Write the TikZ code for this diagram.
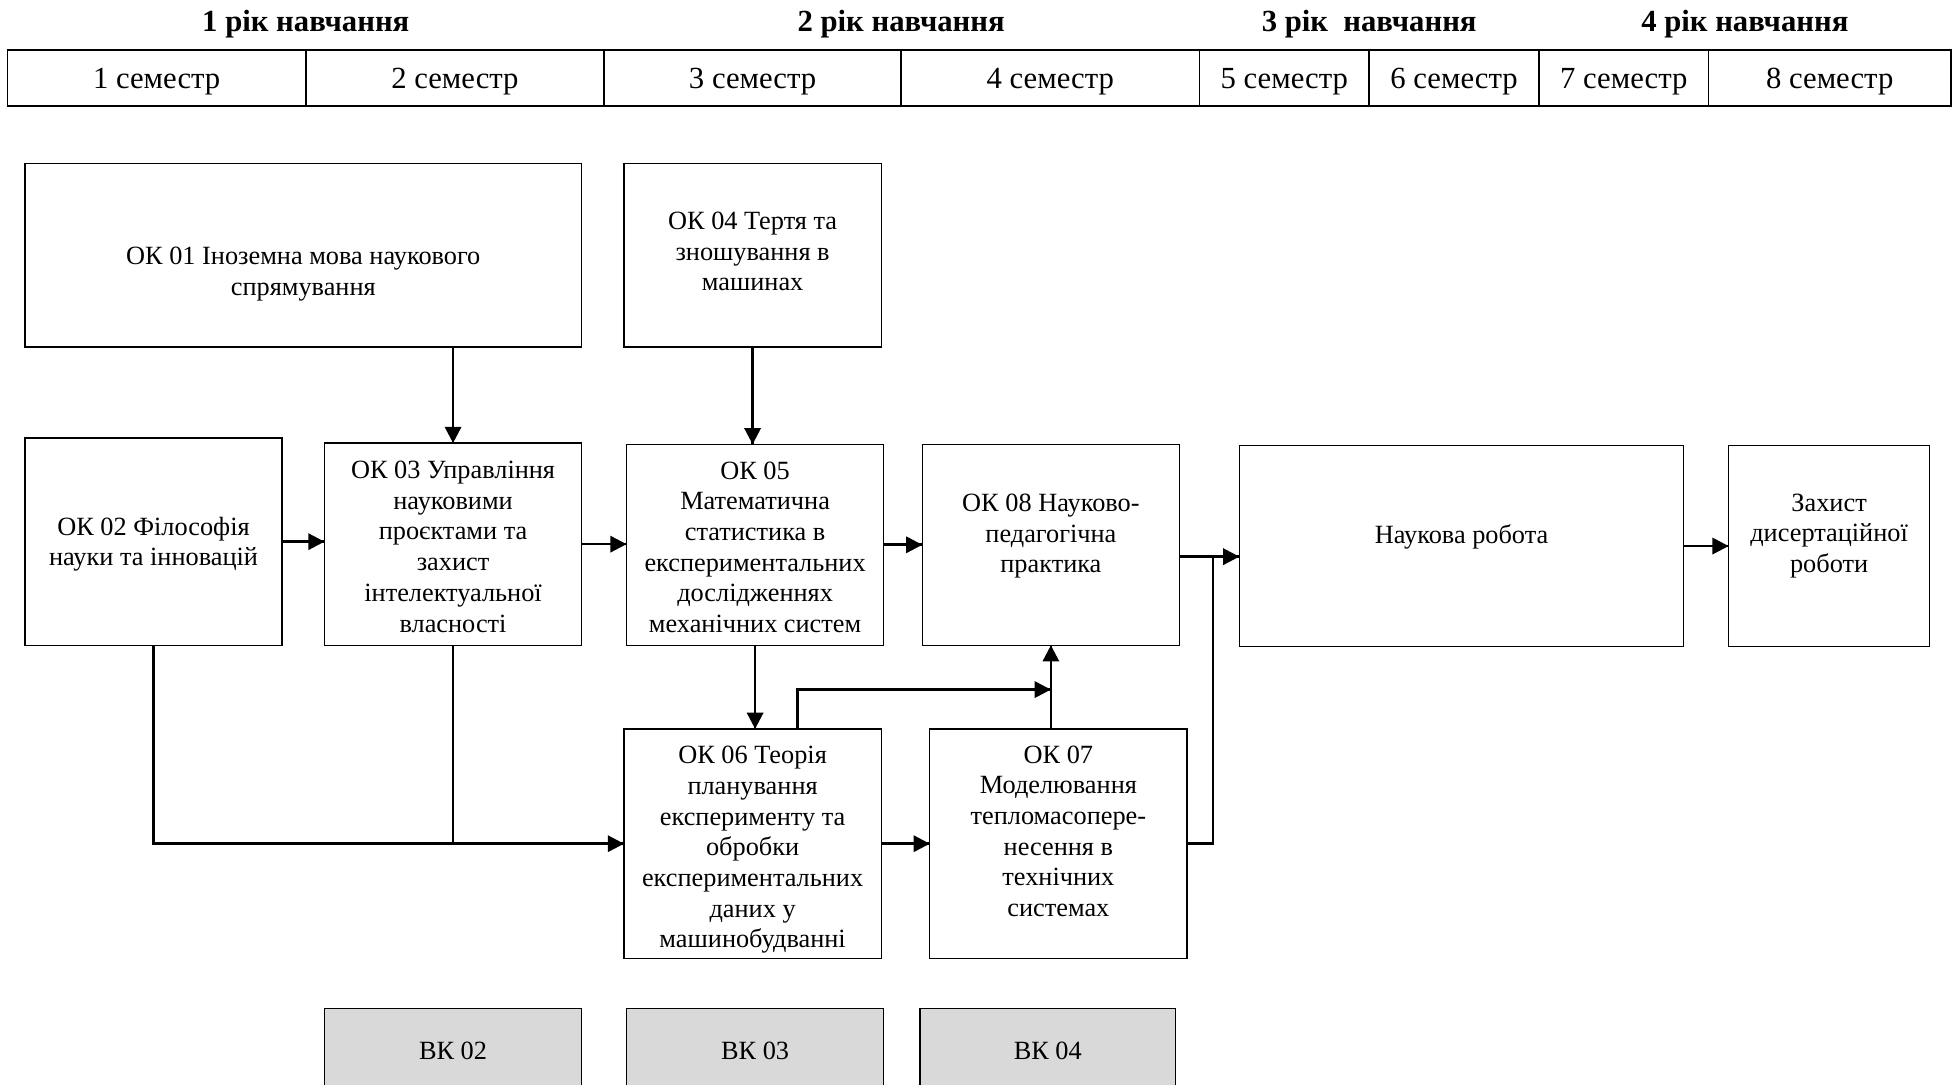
\documentclass[tikz,border=0pt]{standalone}
\usepackage{fontspec}
\setmainfont{Liberation Serif}
\usetikzlibrary{arrows.meta}
\usetikzlibrary{decorations.markings}
\usetikzlibrary{positioning}
\definecolor{vkgray}{RGB}{217,217,217}
\tikzset{link/.style = {line width = 1.2pt}}
\tikzset{->/.style = {decoration={markings,
                                  mark=at position 1 with {\arrow{Triangle[length=2.6mm, width=2.6mm]}}},
                      postaction={decorate}, link}}
\tikzset{box/.style = {draw, line width = 0.6pt, inner sep = 0, outer sep = 0}}
\tikzset{txt/.style = {align = center, inner sep = 0, font = \fontsize{12}{14}\selectfont}}
\tikzset{vk/.style = {box, txt, fill = vkgray, minimum height = 1.36cm}}
\tikzset{cell/.style = {draw, line width = 0.7pt, inner sep = 0, outer sep = 0, minimum height = 0.9cm,
                        text height = 12.4pt, text depth = 3pt, font = \fontsize{14}{16}\selectfont}}
\tikzset{year/.style = {font = \fontsize{14}{16}\selectfont\bfseries}}

\begin{document}
\begin{tikzpicture}
      \path [use as bounding box, clip] (0, 0) rectangle (31.36, -17.38);

      \node [year] (y1) at (4.9, -0.38) {1 рік навчання};
      \node [year] (y2) at (14.44, -0.38) {2 рік навчання};
      \node [year] (y3) at (21.94, -0.38) {3 рік\ \ навчання};
      \node [year] (y4) at (27.96, -0.38) {4 рік навчання};

      \foreach \n/\a/\b in {1/0.12/4.9, 2/4.9/9.68, 3/9.68/14.44, 4/14.44/19.22,
                            5/19.22/21.94, 6/21.94/24.66, 7/24.66/27.38, 8/27.38/31.26} {
        \node [cell, minimum width = {(\b-\a)*1cm}] (sem\n) at ({(\a+\b)/2}, -1.25) {\n\ семестр};
      }

      % frames
      \node [box, minimum width = 8.92cm, minimum height = 2.94cm] (ok01) at (4.86, -4.09) {};
      \node [box, minimum width = 4.12cm, minimum height = 2.94cm] (ok04) at (12.06, -4.09) {};
      \node [box, minimum width = 4.12cm, minimum height = 3.32cm] (ok02) at (2.46, -8.68) {};
      \node [box, minimum width = 4.12cm, minimum height = 3.24cm] (ok03) at (7.26, -8.72) {};
      \node [box, minimum width = 4.12cm, minimum height = 3.22cm] (ok05) at (12.1, -8.73) {};
      \node [box, minimum width = 4.12cm, minimum height = 3.22cm] (ok08) at (16.84, -8.73) {};
      \node [box, minimum width = 7.12cm, minimum height = 3.22cm] (nauk) at (23.42, -8.75) {};
      \node [box, minimum width = 3.22cm, minimum height = 3.22cm] (zakh) at (29.31, -8.75) {};
      \node [box, minimum width = 4.12cm, minimum height = 3.68cm] (ok06) at (12.06, -13.52) {};
      \node [box, minimum width = 4.12cm, minimum height = 3.68cm] (ok07) at (16.96, -13.52) {};

      % texts
      \node [txt] (ok01t) at ([yshift = -0.3cm]ok01.center) {ОК 01 Іноземна мова наукового\\спрямування};
      \node [txt] (ok04t) at ([yshift = 0.06cm]ok04.center) {ОК 04 Тертя та\\зношування в\\машинах};
      \node [txt] (ok02t) at ([yshift = -0.04cm]ok02.center) {ОК 02 Філософія\\науки та інновацій};
      \node [txt] (ok03t) at ([yshift = -0.04cm]ok03.center)
            {ОК 03 Управління\\науковими\\проєктами та\\захист\\інтелектуальної\\власності};
      \node [txt] (ok05t) at ([yshift = -0.04cm]ok05.center)
            {ОК 05\\Математична\\статистика в\\експериментальних\\дослідженнях\\механічних систем};
      \node [txt] (ok08t) at ([yshift = 0.14cm]ok08.center) {ОК 08 Науково-\\педагогічна\\практика};
      \node [txt] (naukt) at ([yshift = 0.14cm]nauk.center) {Наукова робота};
      \node [txt] (zakht) at ([yshift = 0.16cm]zakh.center) {Захист\\дисертаційної\\роботи};
      \node [txt] (ok06t) at ([yshift = -0.1cm]ok06.center)
            {ОК 06 Теорія\\планування\\експерименту та\\обробки\\експериментальних\\даних у\\машинобудванні};
      \node [txt] (ok07t) at ([yshift = 0.2cm]ok07.center)
            {ОК 07\\Моделювання\\тепломасопере-\\несення в\\технічних\\системах};

      \node [vk, minimum width = 4.12cm] (vk02) at (7.26, -16.84) {ВК 02};
      \node [vk, minimum width = 4.12cm] (vk03) at (12.1, -16.84) {ВК 03};
      \node [vk, minimum width = 4.1cm] (vk04) at (16.79, -16.84) {ВК 04};

      \coordinate (join) at (19.44, -8.92);
      \coordinate (turn) at (16.84, -11.05);

      \draw [->] (ok01.south -| ok03.north) -- (ok03.north);
      \draw [->] (ok04.south) -- (ok04.south |- ok05.north);
      \draw [->] (ok02.east) -- (ok02.east -| ok03.west);
      \draw [->] (ok03.east) -- (ok03.east -| ok05.west);
      \draw [->] (ok05.east) -- (ok05.east -| ok08.west);
      \draw [->] (ok08.east |- join) -- (nauk.west |- join);
      \draw [link] (ok07.east) -| (join);
      \draw [->] (nauk.east) -- (zakh.west);
      \draw [->] (ok05.south) -- (ok05.south |- ok06.north);
      \draw [->] ([xshift = 0.72cm]ok06.north) |- (turn);
      \draw [->] (ok08.south |- ok07.north) -- (ok08.south);
      \draw [->] (ok02.south) |- (ok06.west);
      \draw [link] (ok03.south) -- (ok03.south |- ok06.west);
      \draw [->] (ok06.east) -- (ok06.east -| ok07.west);

    \end{tikzpicture}
\end{document}
